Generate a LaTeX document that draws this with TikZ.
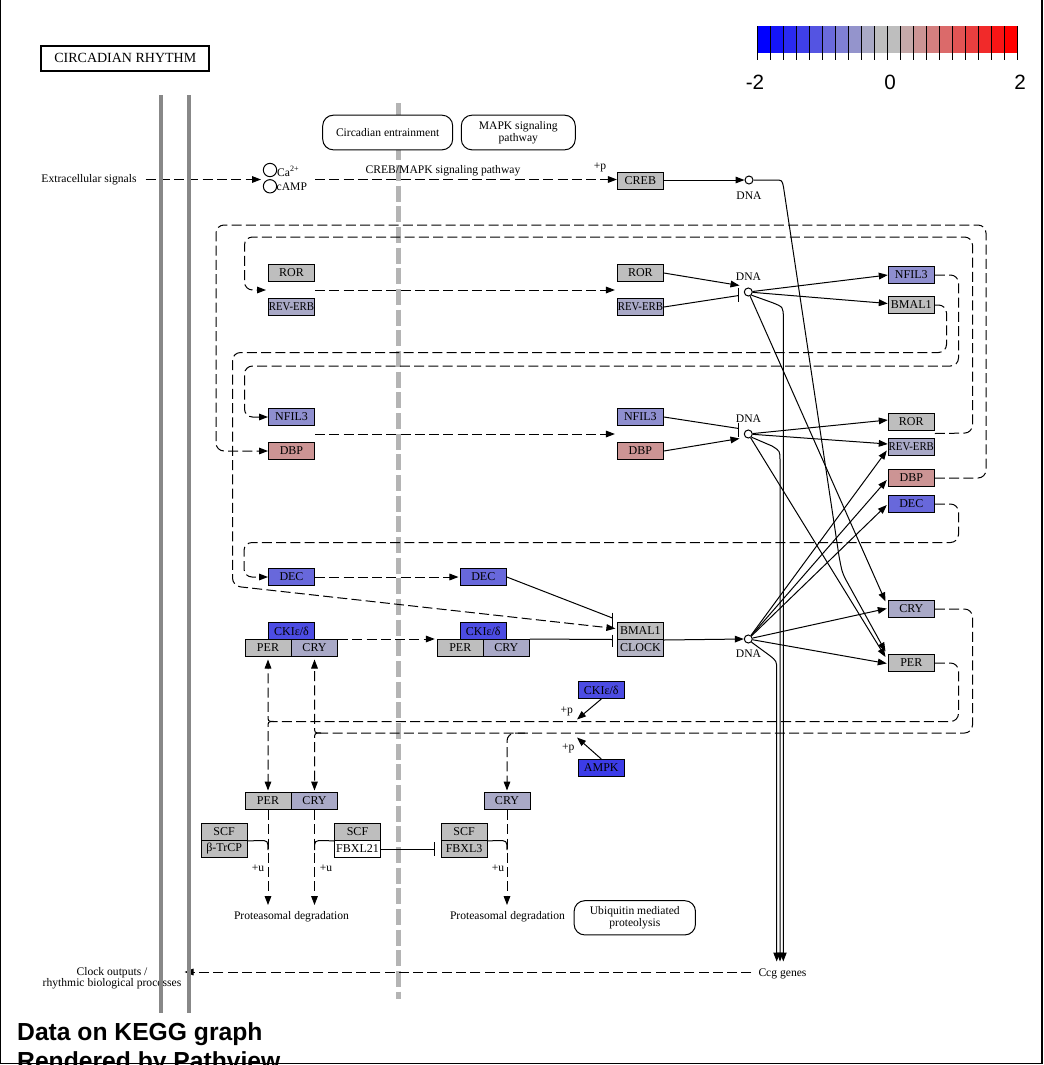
\documentclass[tikz,border=0pt]{standalone}
\usepackage{fontspec}
\setmainfont{Liberation Serif}
\newfontfamily\legfont{Liberation Sans}
\usepackage{graphicx}
\usetikzlibrary{arrows.meta,calc}
\definecolor{cGray}{RGB}{190,190,190}
\definecolor{cRev}{RGB}{169,169,199}
\definecolor{cNfil}{RGB}{143,143,207}
\definecolor{cDbp}{RGB}{204,148,148}
\definecolor{cDec}{RGB}{104,104,219}
\definecolor{cCki}{RGB}{76,76,227}
\definecolor{cAmpk}{RGB}{60,60,232}
\definecolor{cClock}{RGB}{180,180,196}
\definecolor{barGray}{RGB}{136,136,136}
\definecolor{dashGray}{RGB}{180,180,180}
\definecolor{lg1}{RGB}{0,0,255}
\definecolor{lg2}{RGB}{21,21,248}
\definecolor{lg3}{RGB}{42,42,241}
\definecolor{lg4}{RGB}{63,63,233}
\definecolor{lg5}{RGB}{84,84,226}
\definecolor{lg6}{RGB}{106,106,219}
\definecolor{lg7}{RGB}{127,127,212}
\definecolor{lg8}{RGB}{148,148,204}
\definecolor{lg9}{RGB}{169,169,197}
\definecolor{lg10}{RGB}{190,190,190}
\definecolor{lg11}{RGB}{190,190,190}
\definecolor{lg12}{RGB}{197,169,169}
\definecolor{lg13}{RGB}{204,148,148}
\definecolor{lg14}{RGB}{212,127,127}
\definecolor{lg15}{RGB}{219,106,106}
\definecolor{lg16}{RGB}{226,84,84}
\definecolor{lg17}{RGB}{233,63,63}
\definecolor{lg18}{RGB}{241,42,42}
\definecolor{lg19}{RGB}{248,21,21}
\definecolor{lg20}{RGB}{255,0,0}
\newcommand\kgfont{\fontsize{9}{10}\selectfont}
\newcommand\klfont{\fontsize{8.7}{9.3}\selectfont}
\newcommand\revtxt{\scalebox{0.9}[1]{REV-ERB}}
\begin{document}
\begin{tikzpicture}[x=0.75pt,y=-0.75pt,line width=0.75pt,
  gene/.style={draw,fill=#1,minimum width=34.5pt,minimum height=12.75pt,inner sep=0pt,font=\kgfont},
  lbl/.style={inner sep=0pt,font=\klfont},
  dna/.style={circle,draw,fill=white,minimum size=6pt,inner sep=0pt},
  pwy/.style={draw,fill=white,rounded corners=8pt,minimum height=26pt,inner sep=0pt,align=center,font=\klfont},
  arr/.style={-{Triangle[length=6.75pt,width=5pt]}},
  dsh/.style={dash pattern=on 7.5pt off 3.2pt},
  rc/.style={rounded corners=6pt}]
\useasboundingbox (0,0) rectangle (1044,1065);

% legend
\foreach \i in {1,...,20} \fill[lg\i] ({757+(\i-1)*13},26) rectangle ({757+\i*13},53);
\foreach \i in {0,...,20} \draw ({757+\i*13},26) -- ({757+\i*13},59.5);
\node[inner sep=0pt,font=\legfont\fontsize{15.5}{16}\selectfont] (lgm) at (755,82) {-2};
\node[inner sep=0pt,font=\legfont\fontsize{15.5}{16}\selectfont] (lgz) at (890,82) {0};
\node[inner sep=0pt,font=\legfont\fontsize{15.5}{16}\selectfont] (lgp) at (1020,82) {2};

% gray dashed membrane
\draw[dashGray,line width=3.75pt,dash pattern=on 12pt off 3.5pt] (398.3,103) -- (398.3,999);

% title and pathway boxes
\node[draw,line width=1.5pt,minimum width=126pt,minimum height=18.5pt,inner sep=0pt,font=\fontsize{10.5}{11}\selectfont] (title) at (125.3,58.4) {CIRCADIAN RHYTHM};
\node[pwy,minimum width=97.5pt] (entr) at (387.7,132.5) {Circadian entrainment};
\node[pwy,minimum width=85.5pt] (mapk) at (518.3,132.5) {MAPK signaling\\pathway};
\node[pwy,minimum width=91pt,minimum height=25.7pt] (ubq) at (634.8,917.8) {Ubiquitin mediated\\proteolysis};

% genes
\node[gene=cGray] (creb) at (640.4,181) {CREB};
\node[gene=cGray] (rorL) at (291.5,273) {ROR};
\node[gene=cRev] (revL) at (291.5,307) {\revtxt};
\node[gene=cNfil] (nfilL) at (291.5,417) {NFIL3};
\node[gene=cDbp] (dbpL) at (291.5,451) {DBP};
\node[gene=cDec] (decL) at (291.5,577) {DEC};
\node[gene=cCki] (ckiL) at (291.5,631) {CKIε/δ};
\node[gene=cGray] (perL) at (268,648) {PER};
\node[gene=cRev] (cryL) at (314.5,648) {CRY};
\node[gene=cDec] (decM) at (483.3,577) {DEC};
\node[gene=cCki] (ckiM) at (483.3,631) {CKIε/δ};
\node[gene=cGray] (perM) at (460.3,648) {PER};
\node[gene=cRev] (cryM) at (506.3,648) {CRY};
\node[gene=cGray] (rorM) at (640.4,273) {ROR};
\node[gene=cRev] (revM) at (640.4,307) {\revtxt};
\node[gene=cNfil] (nfilM) at (640.4,417) {NFIL3};
\node[gene=cDbp] (dbpM) at (640.4,451) {DBP};
\node[gene=cGray] (bmal) at (640.4,631) {BMAL1};
\node[gene=cClock] (clock) at (640.4,648) {CLOCK};
\node[gene=cCki] (ckiS) at (601.3,690) {CKIε/δ};
\node[gene=cAmpk] (ampk) at (601.3,768) {AMPK};
\node[gene=cNfil] (nfilR) at (911.3,275) {NFIL3};
\node[gene=cGray] (bmalR) at (911.3,305) {BMAL1};
\node[gene=cGray] (rorR) at (911.3,422) {ROR};
\node[gene=cRev] (revR) at (911.3,447) {\revtxt};
\node[gene=cDbp] (dbpR) at (911.3,478) {DBP};
\node[gene=cDec] (decR) at (911.3,504) {DEC};
\node[gene=cRev] (cryR) at (911.3,609) {CRY};
\node[gene=cGray] (perR) at (911.3,663) {PER};
\node[gene=cGray] (perD) at (268,801) {PER};
\node[gene=cRev] (cryD) at (314.5,801) {CRY};
\node[gene=cRev] (cryD2) at (507,801) {CRY};
\node[gene=cGray] (scf1) at (224.1,832) {SCF};
\node[gene=cGray] (btrcp) at (224.1,849) {β-TrCP};
\node[gene=cGray] (scf2) at (357.5,832) {SCF};
\node[gene=white] (fbxl21) at (357.5,849) {FBXL21};
\node[gene=cGray] (scf3) at (464.1,832) {SCF};
\node[gene=cGray] (fbxl3) at (464.1,849) {FBXL3};

% DNA
\node[dna] (dna1) at (749,180) {};
\node[dna] (dna2) at (748.3,292) {};
\node[dna] (dna3) at (748.3,434) {};
\node[dna] (dna4) at (748.3,639) {};
\node[lbl] (dnal1) at (749,196) {DNA};
\node[lbl] (dnal2) at (748.5,277) {DNA};
\node[lbl] (dnal3) at (748.5,418.5) {DNA};
\node[lbl] (dnal4) at (748.5,653.5) {DNA};

% labels
\node[lbl] (ext) at (89,179.5) {Extracellular signals};
\node[circle,draw,minimum size=10pt,inner sep=0pt] (ca) at (270,170) {};
\node[circle,draw,minimum size=10pt,inner sep=0pt] (camp) at (270,186.3) {};
\node[lbl,anchor=west] (catx) at (276.7,171) {Ca\textsuperscript{2+}};
\node[lbl,anchor=west] (camptx) at (276.2,187) {cAMP};
\node[lbl] (crebmapk) at (443,170.5) {CREB/MAPK signaling pathway};
\node[lbl] (pp1) at (600,167.5) {+p};
\node[lbl] (pp2) at (566.7,711.7) {+p};
\node[lbl] (pp3) at (568.3,748.3) {+p};
\node[lbl] (pu1) at (258,868.5) {+u};
\node[lbl] (pu2) at (326,868.5) {+u};
\node[lbl] (pu3) at (498,868.5) {+u};
\node[lbl] (deg1) at (291.5,917) {Proteasomal degradation};
\node[lbl] (deg2) at (507.5,917) {Proteasomal degradation};
\node[lbl] (ccg) at (782.5,974) {Ccg genes};
\node[inner sep=0pt,align=center,font=\fontsize{8.7}{8.5}\selectfont] (clk) at (112,978.5) {Clock outputs /\\rhythmic biological processes};

\coordinate (catip) at (261,179.5);
\coordinate (crebsrc) at (315,179.5);
\coordinate (cotip) at (184.5,972);
\coordinate (pdy) at (0,905);
\coordinate (ccgA) at (783.3,961.5);
\coordinate (ccgB) at (780,961.5);
\coordinate (ccgC) at (776.7,961.5);

% CREB branch
\draw[dsh,arr,shorten <=6.5pt] (ext.east) -- (catip);
\draw[dsh,arr] (crebsrc) -- (creb.west |- crebsrc);
\draw[arr] (creb.east |- dna1) -- (dna1.west);
\draw[arr] (dna1.east) -- (775,180) .. controls (782,180) .. (783.5,187) -- (839,556) .. controls (842,572) .. (846,580) -- (885.5,651.5);

% ROR / REV-ERB -> DNA2
\draw[arr] (rorM.east) -- (739.5,285.5);
\draw (revM.east) -- (738.8,295.5);
\draw (738.8,287.5) -- (738.8,301.5);
\draw[arr] (dna2) -- (nfilR.west);
\draw[arr] (dna2) -- ($(bmalR.west)+(0,-1.5)$);
\draw[arr] (dna2) -- (885.5,601.5);
\draw[arr] (dna2.south east) -- (772,302.5) .. controls (783.3,307) .. (783.3,318) -- (ccgA);

% NFIL3 / DBP -> DNA3
\draw (nfilM.east) -- (738.8,428.5);
\draw (738.8,422.5) -- (738.8,436.5);
\draw[arr] (dbpM.east) -- (739.5,438.5);
\draw[arr] (dna3) -- ($(rorR.west)+(0,-2)$);
\draw[arr] (dna3) -- ($(revR.west)+(0,-3)$);
\draw[arr] (dna3) -- (885.5,657);
\draw[arr] (dna3.south east) -- (772,446) .. controls (780,451) .. (780,460) -- (ccgB);

% BMAL1/CLOCK -> DNA4
\draw[arr] (bmal.south east) -- (dna4.west);
\draw[arr] (dna4) -- ($(revR.west)+(-1,3.5)$);
\draw[arr] (dna4) -- ($(dbpR.west)+(-1,2)$);
\draw[arr] (dna4) -- ($(decR.west)+(-1,1)$);
\draw[arr] (dna4) -- ($(cryR.west)+(-1,-0.5)$);
\draw[arr] (dna4) -- ($(perR.west)+(-1,0.5)$);
\draw[arr] (dna4.south east) -- (769,655) .. controls (776.7,661) .. (776.7,670) -- (ccgC);

% Ccg -> clock outputs
\draw[dsh,arr,shorten <=5pt] (ccg.west |- cotip) -- (cotip);

% left-to-right dashed
\draw[dsh,arr,shorten >=1.5pt] ($(rorL.east)!0.5!(revL.east)$) -- ($(rorM.west)!0.5!(revM.west)$);
\draw[dsh,arr,shorten >=1.5pt] ($(nfilL.east)!0.5!(dbpL.east)$) -- ($(nfilM.west)!0.5!(dbpM.west)$);
\draw[dsh,arr,shorten >=1pt] (decL.east) -- (decM.west);
\draw[dsh,arr,shorten >=1.5pt] (cryL.north east) -- (perM.north west);

% inhibitions on BMAL1/CLOCK
\draw (decM.east) -- (612.5,618);
\draw (612.5,612.5) -- (612.5,627);
\draw (cryM.north east) -- (612.5,639.5);
\draw (612.5,634.5) -- (612.5,646.5);

% feedback loops
\draw[dsh,arr,rc] (dbpR.east) -- (986,478) -- (986,225) -- (216,225) -- (216,451) -- (dbpL.west);
\draw[dsh,arr,rc,shorten >=1.5pt] ($(rorR.south east)+(0,2.5)$) -- (972.5,433) -- (972.5,237) -- (244.5,237) -- (244.5,290) -- ($(rorL.west)!0.5!(revL.west)$);
\draw[dsh,arr,rc] (nfilR.east) -- (958.5,275) -- (958.5,366) -- (244.5,366) -- (244.5,417) -- (nfilL.west);
\draw[dsh,arr,rc] (bmalR.east) -- (946.5,305) -- (946.5,352.5) -- (232.5,352.5) -- (232.5,586) -- ($(bmal.west)+(-1.5,-2.5)$);
\draw[dsh,arr,rc] (decR.east) -- (958.5,504) -- (958.5,542.5) -- (244,542.5) -- (244,577) -- (decL.west);

% CRY loop
\draw[dsh,rc] (cryR.east) -- (972.5,609) -- (972.5,733) -- (321,733);
\draw[dsh,arr] (321,733) .. controls (314.5,733) .. (314.5,726) -- ($(cryL.south)+(0,2.5)$);
\draw[dsh,arr] (321,733) .. controls (314.5,733) .. (314.5,740) -- ($(cryD.north)+(0,-1.5)$);
\draw[dsh,arr,rc] (525,733) -- (507,733) -- ($(cryD2.north)+(0,-1.5)$);

% PER loop
\draw[dsh,rc] (perR.east) -- (958.5,663) -- (958.5,721.5) -- (274,721.5);
\draw[dsh,arr] (274,721.5) .. controls (268,721.5) .. (268,715) -- ($(perL.south)+(0,2.5)$);
\draw[dsh,arr] (274,721.5) .. controls (268,721.5) .. (268,728) -- ($(perD.north)+(0,-1.5)$);

% phosphorylation
\draw[arr] (ckiS.south) -- (577,719.5);
\draw[arr] (ampk.north) -- (577,737.5);

% degradation
\draw[dsh,arr] (perD.south) -- (perD.south |- pdy);
\draw[dsh,arr] (cryD.south) -- (cryD.south |- pdy);
\draw[dsh,arr] (cryD2.south) -- (cryD2.south |- pdy);
\draw (scf1.south east) -- (259,840.5) .. controls (268,840.5) .. (268,850);
\draw (scf2.south west) -- (324,840.5) .. controls (314.5,840.5) .. (314.5,850);
\draw (scf3.south east) -- (497,840.5) .. controls (507,840.5) .. (507,850);
\draw[-{Bar[width=10.5pt]}] (fbxl21.east) -- (434.5,849);

% membrane bars
\fill[barGray] (159.3,94.5) rectangle (163.3,1012.5);
\fill[barGray] (187.3,94.5) rectangle (191.3,1012.5);

% frame and footer
\draw[line width=1pt] (0.7,0) -- (0.7,1063.6) -- (1042,1063.6) -- (1042,0);
\node[anchor=base west,inner sep=0pt,font=\legfont\bfseries\fontsize{18.5}{21}\selectfont] (foot1) at (16.7,1040) {Data on KEGG graph};
\node[anchor=base west,inner sep=0pt,font=\legfont\bfseries\fontsize{18.5}{21}\selectfont] (foot2) at (16.7,1069.5) {Rendered by Pathview};
\end{tikzpicture}
\end{document}
